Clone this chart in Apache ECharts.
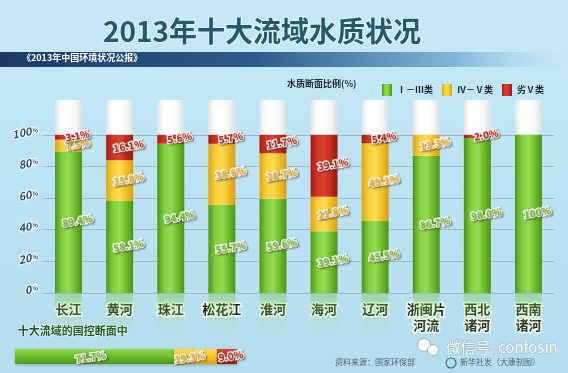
<!DOCTYPE html>
<html><head><meta charset="utf-8">
<script src="https://cdn.jsdelivr.net/npm/echarts@6/dist/echarts.min.js"></script>
<style>html,body{margin:0;padding:0;}#c{width:568px;height:373px;}</style>
</head><body><div id="c"></div>
<script>
const categories = ['长江','黄河','珠江','松花江','淮河','海河','辽河','浙闽片\n河流','西北\n诸河','西南\n诸河'];
const goodVals = [89.4, 58.1, 94.4, 55.7, 59.6, 39.1, 45.5, 86.7, 98.0, 100];
const midVals  = [7.5, 25.8, 0, 38.6, 28.7, 21.8, 49.1, 13.3, 0, 0];
const badVals  = [3.1, 16.1, 5.6, 5.7, 11.7, 39.1, 5.4, 0, 2.0, 0];
const overallVals = [71.7, 19.3, 9.0];
const seriesNames = ['Ⅰ－Ⅲ类', 'Ⅳ－Ⅴ类', '劣Ⅴ类'];
const reflectVals = [0,0,0,0,0,0,0,0,0,0];

const FONT = '"Noto Sans CJK SC", "Noto Sans", sans-serif';
function hGrad(stops){return new echarts.graphic.LinearGradient(0,0,1,0,stops.map((c,i)=>({offset:i/(stops.length-1),color:c})));}
function vGrad(stops){return new echarts.graphic.LinearGradient(0,0,0,1,stops.map((c,i)=>({offset:i/(stops.length-1),color:c})));}
const green = hGrad(['#4a961a','#7fcd3c','#94dc50','#6cbd2c','#4a941a']);
const yellow = hGrad(['#dca414','#f6cf38','#fcdc52','#efbf26','#d89e12']);
const red = hGrad(['#a31c12','#d03424','#dc4230','#c22a1c','#9a1a10']);
const greenH = vGrad(['#8ed84c','#6cbd2c','#4e9c1c']);
const yellowH = vGrad(['#fcdc52','#f2c42c','#dca414']);
const redH = vGrad(['#dc4230','#c62c1e','#a31c12']);

function fmt(p){ if(!p.value) return ''; return p.value===100 ? '100%' : p.value.toFixed(1)+'%'; }
function lbl(fill, extra){
  return Object.assign({show:true, position:'inside', offset:[9,0], rotate:10, formatter:fmt,
    fontFamily:FONT, fontSize:10, fontWeight:'bold', color:fill,
    textBorderColor:'#ffffff', textBorderWidth:2.5,
    textShadowColor:'rgba(60,40,20,0.55)', textShadowBlur:2, textShadowOffsetX:1, textShadowOffsetY:1}, extra||{});
}

const chart = echarts.init(document.getElementById('c'), null, {renderer:'canvas'});
chart.setOption({
  backgroundColor: vGrad(['#c6e9f6','#bce3f3','#b6ddee']),
  animation:false,
  graphic:[
    {type:'rect', shape:{x:0,y:52,width:568,height:15}, z:1,
      style:{fill: new echarts.graphic.LinearGradient(0,0,1,0,[
        {offset:0,color:'#1b3a62'},{offset:0.45,color:'#2c5c8c'},{offset:0.8,color:'#7fb6d8'},{offset:1,color:'rgba(180,220,240,0)'}])}},
    {type:'text', left:22, top:53, z:2, style:{text:'《2013年中国环境状况公报》', fill:'#ffffff', font:'bold 9px '+FONT}},
    {type:'text', x:262, y:31, z:2, style:{text:'2013年十大流域水质状况', fill:'#235a6e', font:'bold 28px '+FONT,
      textAlign:'center', textVerticalAlign:'middle', stroke:'rgba(255,255,255,0.55)', lineWidth:2}},
    {type:'text', left:287, top:79, z:2, style:{text:'水质断面比例(%)', fill:'#1e2a30', font:'bold 9px '+FONT}},
    {type:'text', left:17, top:325, z:2, style:{text:'十大流域的国控断面中', fill:'#1d5a1e', font:'bold 11px '+FONT,
      stroke:'rgba(255,255,255,0.6)', lineWidth:1.5}},
    {type:'text', left:335, top:358, z:2, style:{text:'资料来源：国家环保部', fill:'#4a6474', font:'8px '+FONT}},
    {type:'circle', shape:{cx:451,cy:363,r:5}, z:2, style:{fill:'none', stroke:'#3e6a8a', lineWidth:1.2}},
    {type:'text', left:460, top:358, z:2, style:{text:'新华社发（大康制图）', fill:'#4a6474', font:'8px '+FONT}},
    {type:'circle', shape:{cx:424,cy:345,r:6.5}, z:3, style:{fill:'#ffffff', stroke:'#9fb4c0', lineWidth:1}},
    {type:'circle', shape:{cx:433,cy:350,r:5.5}, z:3, style:{fill:'#ffffff', stroke:'#9fb4c0', lineWidth:1}},
    {type:'text', left:445, top:339, z:3, style:{text:'微信号: confosin', fill:'#ffffff', font:'15px '+FONT,
      stroke:'rgba(90,110,120,0.35)', lineWidth:1}}
  ],
  legend:{ data:seriesNames, left:377, top:79, icon:'rect', itemWidth:10, itemHeight:12, itemGap:9,
    textStyle:{fontFamily:FONT, fontSize:9, fontWeight:'bold', color:'#1e2a30'}},
  grid:[
    {left:43, right:14, top:100, bottom:80},
    {left:43, right:14, top:294, height:52},
    {left:15, width:222, top:349, height:15}
  ],
  xAxis:[
    {type:'category', gridIndex:0, data:categories, axisLine:{show:false}, axisTick:{show:false},
      axisLabel:{margin:8, fontFamily:FONT, fontSize:13, fontWeight:'bold', color:'#1c2a1c', lineHeight:16,
        textBorderColor:'#ffffff', textBorderWidth:3}},
    {type:'category', gridIndex:1, data:categories, show:false},
    {type:'value', gridIndex:2, min:0, max:100, show:false}
  ],
  yAxis:[
    {type:'value', gridIndex:0, min:0, max:122, interval:20, axisLine:{show:false}, axisTick:{show:false},
      splitLine:{show:true, lineStyle:{width:1, color:['#9fb8c6','#9fb8c6','#9fb8c6','#9fb8c6','#9fb8c6','#9fb8c6','rgba(0,0,0,0)','rgba(0,0,0,0)']}},
      axisLabel:{margin:4, rotate:12, verticalAlign:'bottom',
        formatter:v=> v<=100 ? '{n|'+v+'}{p|%}' : '',
        rich:{n:{fontFamily:FONT, fontSize:11, fontWeight:'bold', fontStyle:'italic', color:'#1f4d78',
                 textBorderColor:'#ffffff', textBorderWidth:2},
              p:{fontFamily:FONT, fontSize:7, fontWeight:'bold', color:'#1f4d78', textBorderColor:'#ffffff', textBorderWidth:2}}}},
    {type:'value', gridIndex:1, min:0, max:10, inverse:true, show:false},
    {type:'category', gridIndex:2, data:['十大流域'], show:false}
  ],
  series:[
    {type:'bar', xAxisIndex:1, yAxisIndex:1, data:reflectVals, barWidth:27, silent:true,
      showBackground:true, backgroundStyle:{color: vGrad(['rgba(120,200,70,0.45)','rgba(150,210,110,0.15)','rgba(190,230,245,0)'])},
      itemStyle:{color:'rgba(0,0,0,0)'}, label:{show:false}},
    {name:seriesNames[0], type:'bar', stack:'a', data:goodVals, barWidth:27,
      showBackground:true,
      backgroundStyle:{color: hGrad(['#dfe6ea','#ffffff','#ffffff','#f4f7f8','#d8e0e4']), borderRadius:[4,4,0,0]},
      itemStyle:{color:green}, label:lbl('#6cc02c')},
    {name:seriesNames[1], type:'bar', stack:'a', data:midVals, barWidth:27,
      itemStyle:{color:yellow}, label:lbl('#e8b21c')},
    {name:seriesNames[2], type:'bar', stack:'a', data:badVals, barWidth:27,
      itemStyle:{color:red}, label:lbl('#b82418')},
    {name:seriesNames[0], type:'bar', stack:'b', xAxisIndex:2, yAxisIndex:2, data:[overallVals[0]], barWidth:15,
      itemStyle:{color:greenH, shadowColor:'rgba(0,0,0,0.25)', shadowBlur:3, shadowOffsetY:1},
      label:lbl('#6cc02c',{offset:[-4,0], rotate:8})},
    {name:seriesNames[1], type:'bar', stack:'b', xAxisIndex:2, yAxisIndex:2, data:[overallVals[1]], barWidth:15,
      itemStyle:{color:yellowH, shadowColor:'rgba(0,0,0,0.25)', shadowBlur:3, shadowOffsetY:1},
      label:lbl('#e8b21c',{offset:[-6,0], rotate:8})},
    {name:seriesNames[2], type:'bar', stack:'b', xAxisIndex:2, yAxisIndex:2, data:[overallVals[2]], barWidth:15,
      itemStyle:{color:redH, shadowColor:'rgba(0,0,0,0.25)', shadowBlur:3, shadowOffsetY:1},
      label:lbl('#b82418',{offset:[4,0], rotate:8})}
  ]
});
</script></body></html>
